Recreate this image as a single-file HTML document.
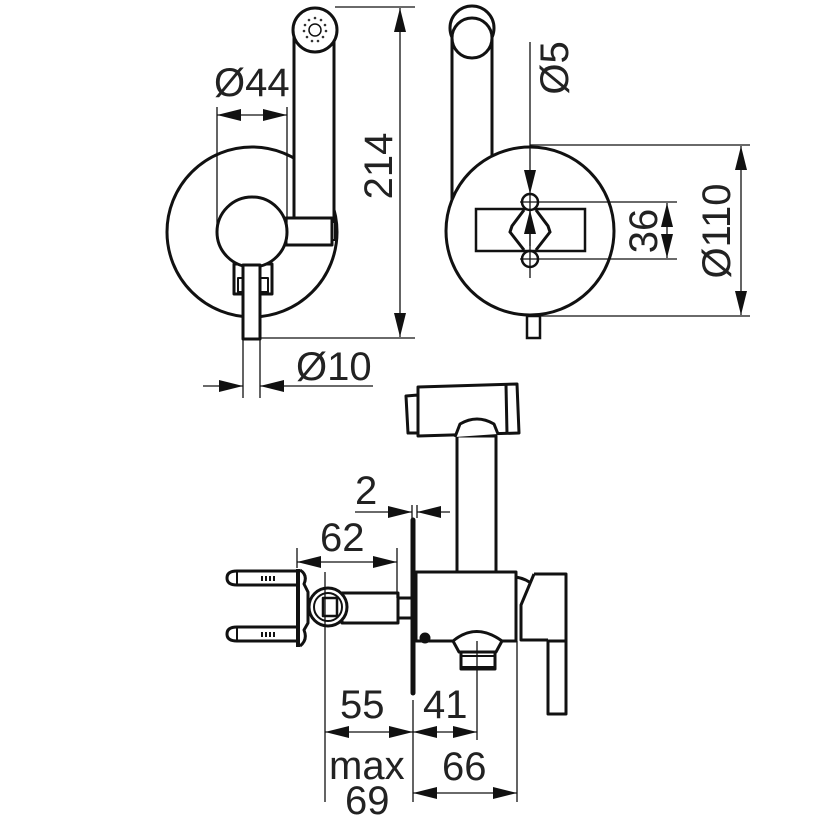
<!DOCTYPE html>
<html><head><meta charset="utf-8"><style>
html,body{margin:0;padding:0;background:#fff}
svg{display:block}
text{font-family:"Liberation Sans",sans-serif;font-size:40px;fill:#222}
</style></head><body>
<svg width="831" height="831" viewBox="0 0 831 831" xmlns="http://www.w3.org/2000/svg">
<defs>
<marker id="a" viewBox="0 0 24 12" refX="24" refY="6" markerWidth="24" markerHeight="12" orient="auto-start-reverse" markerUnits="userSpaceOnUse"><path d="M0,0 L24,6 L0,12 z" fill="#111"/></marker>
</defs>
<g fill="none" stroke="#111" stroke-width="3" stroke-linejoin="round">
<!-- top-left view -->
<circle cx="252" cy="232" r="85" fill="#fff"/>
<rect x="294" y="30" width="40" height="190" fill="#fff"/>
<circle cx="315" cy="30" r="22" fill="#fff"/>
<rect x="286" y="218" width="46" height="27" fill="#fff"/>
<path d="M332,222 L335,222 L335,240 L332,240" stroke-width="2"/>
<rect x="234" y="264" width="38" height="30" fill="#fff"/>
<rect x="238" y="278" width="30" height="14" fill="#fff" stroke-width="2"/>
<circle cx="252" cy="232" r="35" fill="#fff"/>
<rect x="243" y="265" width="17" height="74" fill="#fff"/>
<g fill="#333" stroke="none">
<circle cx="315" cy="18" r="1.3"/><circle cx="321" cy="20" r="1.3"/><circle cx="325" cy="25" r="1.3"/><circle cx="326" cy="31" r="1.3"/><circle cx="323" cy="37" r="1.3"/><circle cx="318" cy="41" r="1.3"/><circle cx="312" cy="41" r="1.3"/><circle cx="307" cy="37" r="1.3"/><circle cx="304" cy="31" r="1.3"/><circle cx="305" cy="25" r="1.3"/><circle cx="309" cy="20" r="1.3"/>
</g>
<circle cx="315" cy="30" r="6" stroke-width="1.5"/>
</g>
<g stroke="#111" stroke-width="1.3" fill="none">
<line x1="217" y1="107" x2="217" y2="232"/>
<line x1="287" y1="107" x2="287" y2="232"/>
<line x1="217" y1="115" x2="287" y2="115" marker-start="url(#a)" marker-end="url(#a)"/>
<line x1="335" y1="7" x2="415" y2="7"/>
<line x1="260" y1="338" x2="415" y2="338"/>
<line x1="400" y1="8" x2="400" y2="337" marker-start="url(#a)" marker-end="url(#a)"/>
<line x1="243" y1="340" x2="243" y2="398"/>
<line x1="260" y1="340" x2="260" y2="398"/>
<line x1="203" y1="386" x2="243" y2="386" marker-end="url(#a)"/>
<line x1="260" y1="386" x2="373" y2="386" marker-start="url(#a)"/>
</g>
<text x="214" y="96">Ø44</text>
<text x="296" y="380">Ø10</text>
<text transform="translate(392,166) rotate(-90)" text-anchor="middle">214</text>

<!-- top-right view -->
<g fill="none" stroke="#111" stroke-width="3">
<rect x="452" y="30" width="40" height="170" fill="#fff"/>
<circle cx="472" cy="28" r="22" fill="#fff"/>
<circle cx="472" cy="38" r="20" fill="#fff"/>
<circle cx="530" cy="231" r="84" fill="#fff"/>
<rect x="527" y="316" width="13" height="22" fill="#fff" stroke-width="2.5"/>
<rect x="476" y="209" width="109" height="42" stroke-width="2.5"/>
<path d="M524,210 L512,226 L510,232 L524,250 M536,210 L548,226 L550,232 L536,250" fill="#fff" stroke-width="3"/>
<circle cx="530" cy="202" r="8" fill="#fff" stroke-width="2.5"/>
<circle cx="530" cy="259" r="8" fill="#fff" stroke-width="2.5"/>
</g>
<g stroke="#111" stroke-width="1.3" fill="none">
<line x1="530" y1="42" x2="530" y2="194" marker-end="url(#a)"/>
<line x1="530" y1="194" x2="530" y2="278"/>
<line x1="530" y1="246" x2="530" y2="210" marker-end="url(#a)"/>
<line x1="520" y1="202" x2="677" y2="202"/>
<line x1="520" y1="259" x2="677" y2="259"/>
<line x1="667" y1="203" x2="667" y2="258" marker-start="url(#a)" marker-end="url(#a)"/>
<line x1="530" y1="145" x2="750" y2="145"/>
<line x1="530" y1="316" x2="750" y2="316"/>
<line x1="741" y1="146" x2="741" y2="315" marker-start="url(#a)" marker-end="url(#a)"/>
</g>
<text transform="translate(568,68) rotate(-90)" text-anchor="middle">Ø5</text>
<text transform="translate(657,231) rotate(-90)" text-anchor="middle">36</text>
<text transform="translate(730,231) rotate(-90)" text-anchor="middle">Ø110</text>

<!-- bottom side view -->
<g fill="none" stroke="#111" stroke-width="3" stroke-linejoin="round">
<path d="M406,396 L418,395 L418,433 L408,433 Z" fill="#fff"/>
<path d="M418,387 L517,384 L519,433 L418,436 Z" fill="#fff"/>
<line x1="506" y1="385" x2="507" y2="434"/>
<rect x="457" y="436" width="39" height="136" fill="#fff"/>
<path d="M455,437 L460,424 Q477,414 494,424 L498,434" fill="#fff"/>
<rect x="416" y="572" width="100" height="69" fill="#fff"/>
<path d="M516,577 Q527,579 533,585"/>
<path d="M534,574 L566,574 L566,641 L548,641 L548,714 L566,714 L566,641" fill="#fff"/>
<path d="M534,574 L521,605 L521,640 L548,640" fill="#fff"/>
<path d="M453,641 Q476,622 502,641 L496,652 L459,652 Z" fill="#fff"/>
<rect x="461" y="652" width="34" height="17" fill="#fff"/>
<line x1="461" y1="668" x2="495" y2="668" stroke-width="4"/>
<line x1="461" y1="656" x2="495" y2="656" stroke-width="2"/>
<circle cx="425" cy="638" r="4" fill="#111"/>
<rect x="398" y="598" width="15" height="20" fill="#fff"/>
<rect x="342" y="593" width="56" height="30" fill="#fff"/>
<circle cx="328" cy="607" r="19" fill="#fff"/>
<circle cx="328" cy="607" r="14" fill="#fff" stroke-width="2"/>
<rect x="323" y="598" width="14" height="18" stroke-width="2.5"/>
<path d="M300,570 Q308,575 304,584 L308,592 L308,623 L304,630 Q308,640 300,646"/>
<path d="M297,571 L237,571 Q227,571 227,578 Q227,585 237,585 L297,585"/>
<path d="M297,627 L237,627 Q227,627 227,634 Q227,641 237,641 L297,641"/>
<line x1="237" y1="571" x2="237" y2="585" stroke-width="2"/>
<line x1="237" y1="627" x2="237" y2="641" stroke-width="2"/>
<line x1="298" y1="569" x2="298" y2="647" stroke-width="4"/>
<line x1="413" y1="520" x2="413" y2="693" stroke-width="5" stroke-linecap="round"/>
</g>
<g fill="#111">
<rect x="261" y="576" width="2" height="5"/><rect x="265" y="576" width="2" height="5"/><rect x="269" y="576" width="2" height="5"/><rect x="273" y="576" width="2" height="5"/>
<rect x="261" y="632" width="2" height="5"/><rect x="265" y="632" width="2" height="5"/><rect x="269" y="632" width="2" height="5"/><rect x="273" y="632" width="2" height="5"/>
</g>
<g stroke="#111" stroke-width="1.3" fill="none">
<line x1="412" y1="505" x2="412" y2="518"/>
<line x1="417" y1="505" x2="417" y2="518"/>
<line x1="355" y1="512" x2="412" y2="512" marker-end="url(#a)"/>
<line x1="417" y1="512" x2="450" y2="512" marker-start="url(#a)"/>
<line x1="297" y1="548" x2="297" y2="568"/>
<line x1="397" y1="548" x2="397" y2="598"/>
<line x1="297" y1="562" x2="397" y2="562" marker-start="url(#a)" marker-end="url(#a)"/>
<line x1="325" y1="572" x2="325" y2="802"/>
<line x1="413" y1="700" x2="413" y2="802"/>
<line x1="477" y1="641" x2="477" y2="740"/>
<line x1="517" y1="641" x2="517" y2="802"/>
<line x1="325" y1="732" x2="413" y2="732" marker-start="url(#a)" marker-end="url(#a)"/>
<line x1="413" y1="732" x2="477" y2="732" marker-start="url(#a)" marker-end="url(#a)"/>
<line x1="413" y1="793" x2="517" y2="793" marker-start="url(#a)" marker-end="url(#a)"/>
</g>
<text x="355" y="504">2</text>
<text x="320" y="551">62</text>
<text x="340" y="718">55</text>
<text x="423" y="718">41</text>
<text x="329" y="779">max</text>
<text x="345" y="814">69</text>
<text x="442" y="780">66</text>
</svg>
</body></html>
